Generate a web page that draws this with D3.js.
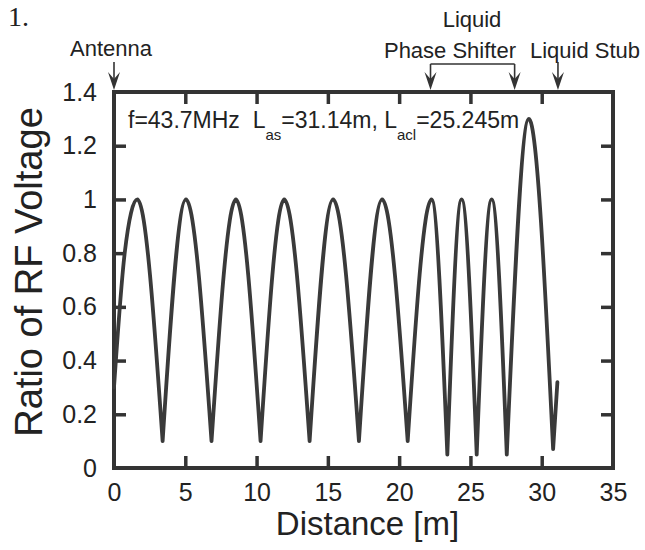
<!DOCTYPE html>
<html>
<head>
<meta charset="utf-8">
<script src="https://cdn.jsdelivr.net/npm/d3@7"></script>
<style>
  body { margin: 0; background: #fff; }
  text { font-family: "Liberation Sans", Arial, Helvetica, sans-serif; fill: #222; }
  .axis text { font-size: 25px; }
  .axis line { stroke: #333; stroke-width: 3.5; }
  .axis path { display: none; }
</style>
</head>
<body>
<svg id="chart" width="645" height="550"></svg>
<script>
//tick values and labels
var xTicks = [0, 5, 10, 15, 20, 25, 30, 35];
var yTicks = [0, 0.2, 0.4, 0.6, 0.8, 1, 1.2, 1.4];
var yTickLabels = ["0", "0.2", "0.4", "0.6", "0.8", "1", "1.2", "1.4"];

//key points of the voltage curve (peaks and minima)
var distance = [0, 0.75, 1.64, 3.41, 5.05, 6.84, 8.55, 10.28, 11.94, 13.72, 15.37, 17.18,
                18.81, 20.6, 22.27, 23.38, 24.38, 25.44, 26.49, 27.55, 29.1, 30.8, 31.1];
var voltage  = [0.3, 0.8, 1.0, 0.1, 1.0, 0.1, 1.0, 0.1, 1.0, 0.1, 1.0, 0.1,
                1.0, 0.1, 1.0, 0.05, 1.0, 0.05, 1.0, 0.05, 1.3, 0.07, 0.32];
//indices of the sharp minima, where the curve is split
var cusps = [3, 5, 7, 9, 11, 13, 15, 17, 19, 21];

//annotation positions along the line [m]
var antennaPos = 0;
var shifterStart = 22.2, shifterEnd = 28.1;
var stubPos = 31.14;

var svg = d3.select("#chart"),
    margin = {top: 92, right: 32, bottom: 82, left: 114},
    width = +svg.attr("width") - margin.left - margin.right,
    height = +svg.attr("height") - margin.top - margin.bottom,
    g = svg.append("g").attr("transform", "translate(" + margin.left + "," + margin.top + ")");

var x = d3.scaleLinear().domain([0, 35]).range([0, width]),
    y = d3.scaleLinear().domain([0, 1.4]).range([height, 0]);

var innerX = xTicks.slice(1, -1), innerY = yTicks.slice(1, -1);

//bottom axis with labels, inward ticks
g.append("g").attr("class", "axis")
    .attr("transform", "translate(0," + height + ")")
    .call(d3.axisBottom(x).tickValues(xTicks).tickSize(-12).tickPadding(15).tickFormat(d3.format("d")))
    .selectAll("line").filter(function(d) { return innerX.indexOf(d) < 0; }).remove();

//top axis ticks only
g.append("g").attr("class", "axis")
    .call(d3.axisTop(x).tickValues(innerX).tickSize(-12).tickFormat(""));

//left axis with labels
g.append("g").attr("class", "axis")
    .call(d3.axisLeft(y).tickValues(yTicks).tickSize(-12).tickPadding(17)
      .tickFormat(function(d, i) { return yTickLabels[i]; }))
    .selectAll("line").filter(function(d) { return innerY.indexOf(d) < 0; }).remove();

//right axis ticks only
g.append("g").attr("class", "axis")
    .attr("transform", "translate(" + width + ",0)")
    .call(d3.axisRight(y).tickValues(innerY).tickSize(-12).tickFormat(""));

//frame
g.append("rect")
    .attr("width", width).attr("height", height)
    .attr("fill", "none").attr("stroke", "#333").attr("stroke-width", 4);

//voltage curve, one smooth piece per arch
var pts = distance.map(function(d, i) { return [d, voltage[i]]; });
var line = d3.line()
    .x(function(d) { return x(d[0]); })
    .y(function(d) { return y(d[1]); })
    .curve(d3.curveMonotoneX);
var breaks = [0].concat(cusps, [pts.length - 1]);
var pathD = "";
for (var k = 0; k < breaks.length - 1; k++) {
  pathD += line(pts.slice(breaks[k], breaks[k + 1] + 1));
}
g.append("path")
    .attr("d", pathD)
    .attr("fill", "none")
    .attr("stroke", "#3a3a3a")
    .attr("stroke-width", 3.8)
    .attr("stroke-linecap", "round")
    .attr("stroke-linejoin", "round");

//parameters text
var info = g.append("text").attr("x", 14).attr("y", 36)
    .style("font-size", "23px").style("white-space", "pre");
info.append("tspan").text("f=43.7MHz  L");
info.append("tspan").attr("dy", 12).style("font-size", "15px").text("as");
info.append("tspan").attr("dy", -12).text("=31.14m, L");
info.append("tspan").attr("dy", 12).style("font-size", "15px").text("acl");
info.append("tspan").attr("dy", -12).text("=25.245m");

//axis titles
svg.append("text")
    .attr("x", margin.left + width / 2 + 4).attr("y", 535)
    .attr("text-anchor", "middle").style("font-size", "33px")
    .text("Distance [m]");
svg.append("text")
    .attr("transform", "translate(42," + (margin.top + height / 2 - 8) + ") rotate(-90)")
    .attr("text-anchor", "middle").style("font-size", "38px")
    .text("Ratio of RF Voltage");

//arrows above the plot
function arrow(px, top) {
  var bottom = margin.top - 2;
  svg.append("line").attr("x1", px).attr("x2", px).attr("y1", top).attr("y2", bottom - 8)
      .attr("stroke", "#333").attr("stroke-width", 1.6);
  svg.append("path")
      .attr("d", "M" + (px - 6) + "," + (bottom - 18) + "L" + px + "," + bottom + "L" + (px + 6) + "," + (bottom - 18) + "L" + px + "," + (bottom - 11) + "Z")
      .attr("fill", "#333");
}
var ax = margin.left + x(antennaPos),
    s0 = margin.left + x(shifterStart),
    s1 = margin.left + x(shifterEnd),
    st = margin.left + x(stubPos);
arrow(ax, 62);
arrow(s0, 64);
arrow(s1, 64);
arrow(st, 62);
svg.append("line").attr("x1", s0).attr("x2", s1).attr("y1", 64).attr("y2", 64)
    .attr("stroke", "#333").attr("stroke-width", 1.6);

svg.append("text").attr("x", ax - 3).attr("y", 56).attr("text-anchor", "middle")
    .style("font-size", "22px").text("Antenna");
svg.append("text").attr("x", 472).attr("y", 27).attr("text-anchor", "middle")
    .style("font-size", "22px").text("Liquid");
svg.append("text").attr("x", 450).attr("y", 58).attr("text-anchor", "middle")
    .style("font-size", "22px").text("Phase Shifter");
svg.append("text").attr("x", 585).attr("y", 58).attr("text-anchor", "middle")
    .style("font-size", "22px").text("Liquid Stub");

//caption fragment at the top corner
svg.append("text").attr("x", 8).attr("y", 26)
    .style("font-family", "'Liberation Serif', 'Times New Roman', serif")
    .style("font-size", "28px").text("1.");
</script>
</body>
</html>
